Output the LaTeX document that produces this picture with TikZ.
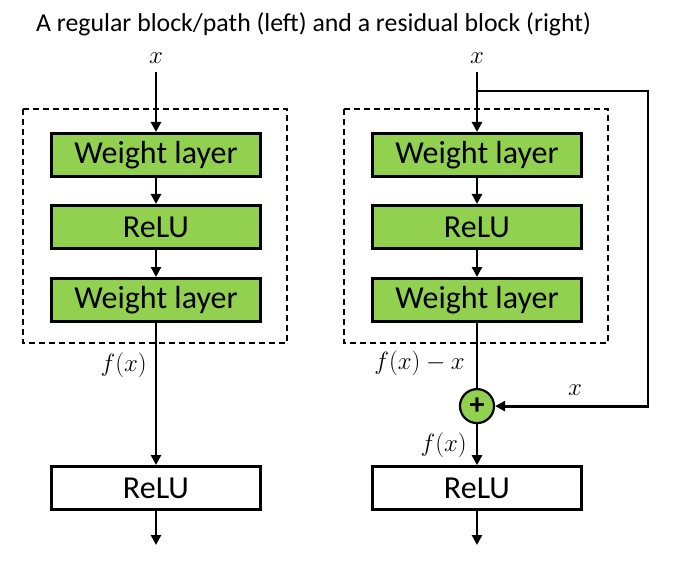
\documentclass[tikz,border=0pt]{standalone}
\usepackage{fontspec}
\setmainfont{Carlito}
\usetikzlibrary{positioning}
\usetikzlibrary{arrows.meta}
\definecolor{layergreen}{HTML}{92D050}

\begin{document}
\begin{tikzpicture}[x=1pt,y=-1pt,
  layer/.style={rectangle,draw=black,line width=3pt,fill=layergreen,minimum width=209pt,minimum height=43pt,font=\fontsize{32}{36}\selectfont},
  plain/.style={layer,fill=white},
  conn/.style={line width=2.8pt,-{Triangle[length=10pt,width=10pt]}},
  wire/.style={line width=2.8pt},
  frame/.style={draw=black,line width=1.8pt,dash pattern=on 6pt off 4pt},
  lbl/.style={font=\fontsize{30}{34}\selectfont,inner sep=0pt}]
\useasboundingbox (0,0) rectangle (675,567);
\node[font=\fontsize{25.8}{30}\selectfont,anchor=base west,inner sep=0pt] (title) at (36,32) {A regular block/path (left) and a residual block (right)};

% regular block
\node[lbl,inner ysep=8pt] (inL) at (156,58) {$x$};
\node[layer] (wl1L) at (156,155) {Weight layer};
\node[layer,below=26pt of wl1L] (reluL) {ReLU};
\node[layer,below=27pt of reluL] (wl2L) {Weight layer};
\node[plain,below=142pt of wl2L] (outL) {ReLU};
\coordinate (endL) at (156,545);
\draw[frame] (22.7,109) rectangle (287,343);
\draw[conn] (inL) -- (wl1L);
\draw[conn] (wl1L) -- (reluL);
\draw[conn] (reluL) -- (wl2L);
\draw[conn] (wl2L) -- (outL);
\draw[conn] (outL) -- (endL);
\node[lbl,anchor=east] (fxL) at (147,365) {$f(x)$};

% residual block
\node[lbl,inner ysep=8pt] (inR) at (477,58) {$x$};
\node[layer] (wl1R) at (477,155) {Weight layer};
\node[layer,below=26pt of wl1R] (reluR) {ReLU};
\node[layer,below=27pt of reluR] (wl2R) {Weight layer};
\node[circle,draw=black,line width=2.2pt,fill=layergreen,minimum size=34pt,inner sep=0pt,below=65pt of wl2R,font=\fontsize{30}{30}\selectfont\bfseries] (add) {+};
\node[plain,below=41pt of add] (outR) {ReLU};
\coordinate (endR) at (477,545);
\coordinate (split) at (477,91);
\coordinate (corner) at (648,91);
\draw[frame] (344,109) rectangle (608,343);
\draw[conn] (inR) -- (wl1R);
\draw[conn] (wl1R) -- (reluR);
\draw[conn] (reluR) -- (wl2R);
\draw[wire] (wl2R) -- (add);
\draw[conn] (add) -- (outR);
\draw[conn] (outR) -- (endR);
\draw[conn] (split) -- (corner) |- (add);
\node[lbl,anchor=east] (fxmx) at (465,363) {$f(x)-x$};
\node[lbl] (skipx) at (575,390) {$x$};
\node[lbl,anchor=east] (fxR) at (467,445) {$f(x)$};

\end{tikzpicture}
\end{document}
